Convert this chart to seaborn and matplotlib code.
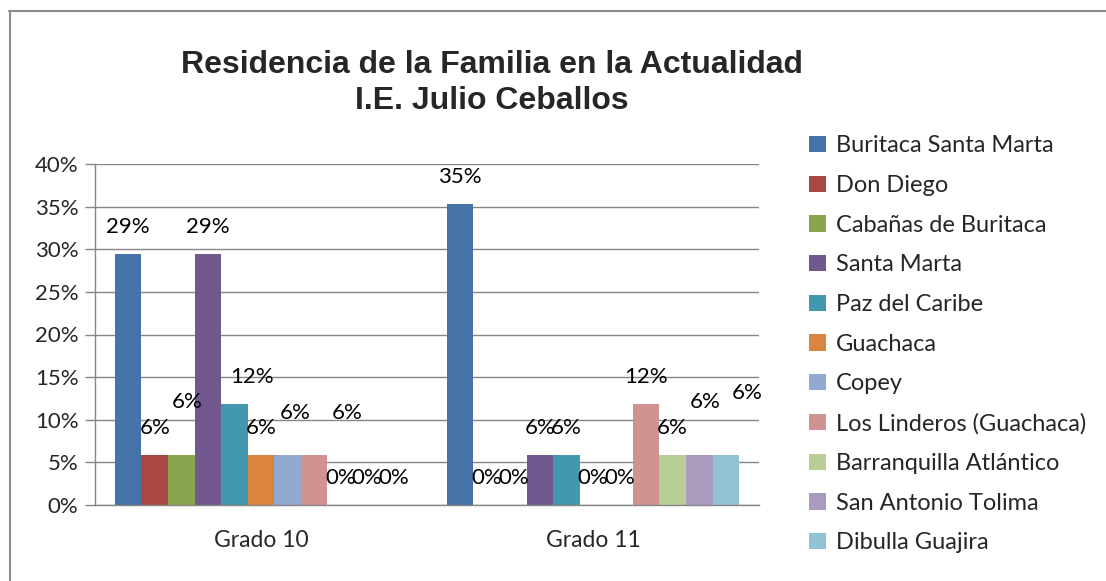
import matplotlib
matplotlib.use("Agg")
import matplotlib.pyplot as plt
import seaborn as sns
import pandas as pd
from matplotlib.patches import Patch
from matplotlib.lines import Line2D

# Data
grados = ["Grado 10", "Grado 11"]
lugares = ["Buritaca Santa Marta", "Don Diego", "Cabañas de Buritaca", "Santa Marta",
           "Paz del Caribe", "Guachaca", "Copey", "Los Linderos (Guachaca)",
           "Barranquilla Atlántico", "San Antonio Tolima", "Dibulla Guajira"]
grado_10 = [0.294, 0.059, 0.059, 0.294, 0.118, 0.059, 0.059, 0.059, 0.0, 0.0, 0.0]
grado_11 = [0.353, 0.0, 0.0, 0.059, 0.059, 0.0, 0.0, 0.118, 0.059, 0.059, 0.059]
colores = ["#4572A7", "#AA4643", "#89A54E", "#71588F", "#4198AF", "#DB843D",
           "#93A9CF", "#D19392", "#B9CD96", "#A99BBD", "#92C3D4"]

df = pd.DataFrame({
    "grado": [g for g in grados for _ in lugares],
    "lugar": lugares * 2,
    "valor": grado_10 + grado_11,
})

# manual nudges of a few data labels (pixels), as dragged in the original
nudges = {(0, 2): (6, 26), (0, 4): (18, 0), (0, 6): (8, 15), (0, 7): (33, 15),
          (1, 9): (6, 26), (1, 10): (21, 35)}

sns.set_style("white")
plt.rcParams["font.family"] = ["Lato", "DejaVu Sans"]
gray = "#868686"

fig = plt.figure(figsize=(11.06, 5.81), dpi=100)
ax = fig.add_axes([95 / 1106, 76 / 581, 664 / 1106, 341 / 581])

sns.barplot(data=df, x="grado", y="valor", hue="lugar", hue_order=lugares,
            palette=colores, width=0.88, dodge=True, gap=0, saturation=1,
            linewidth=0, legend=False, ax=ax)

# data labels
for s, cont in enumerate(ax.containers):
    for g, bar in enumerate(cont):
        h = bar.get_height()
        xc = bar.get_x() + bar.get_width() / 2
        dx, dy = nudges.get((g, s), (0, 0))
        ax.annotate(f"{h * 100:.0f}%", (xc, h), xytext=(dx, 27 + dy),
                    textcoords="offset pixels", ha="center", va="center",
                    fontsize=16, color="black")

ax.set_xlim(-0.5, 1.5)
ax.set_ylim(0, 0.40)
ax.set_yticks([i * 0.05 for i in range(9)])
ax.set_yticklabels([f"{i * 5}%" for i in range(9)], fontsize=16)
ax.set_xticks([0, 1])
ax.set_xticklabels(grados, fontsize=16.5)
ax.set_xticks([-0.5, 0.5, 1.5], minor=True)
ax.tick_params(axis="x", which="major", length=0, pad=18)
ax.tick_params(axis="x", which="minor", length=7, color=gray, width=1, direction="out")
ax.tick_params(axis="y", length=7, color=gray, width=1, direction="out", left=True, pad=5)
ax.set_xlabel("")
ax.set_ylabel("")
ax.grid(axis="y", color=gray, linewidth=1)
ax.set_axisbelow(True)
for side in ["top", "right"]:
    ax.spines[side].set_visible(False)
for side in ["left", "bottom"]:
    ax.spines[side].set_color(gray)
    ax.spines[side].set_linewidth(1)

# title
fig.text(492 / 1106, 1 - 83 / 581, "Residencia de la Familia en la Actualidad\nI.E. Julio Ceballos",
         ha="center", va="center", fontsize=23, fontweight="bold",
         family="Liberation Sans", linespacing=1.22)

# legend
handles = [Patch(facecolor=c, edgecolor="none") for c in colores]
fig.legend(handles, lugares, loc="upper left", bbox_to_anchor=(800 / 1106, 1 - 126 / 581),
           frameon=False, fontsize=17, handlelength=0.68, handleheight=0.68,
           handletextpad=0.45, labelspacing=0.79, borderaxespad=0)

# chart area border (left and top edges visible)
fig.add_artist(Line2D([9.5 / 1106, 9.5 / 1106], [0, 1 - 11 / 581], transform=fig.transFigure,
                      color="#8c8c8c", linewidth=1.5))
fig.add_artist(Line2D([9 / 1106, 1], [1 - 11 / 581, 1 - 11 / 581], transform=fig.transFigure,
                      color="#8c8c8c", linewidth=1.5))

fig.savefig("out.png", dpi=100)
